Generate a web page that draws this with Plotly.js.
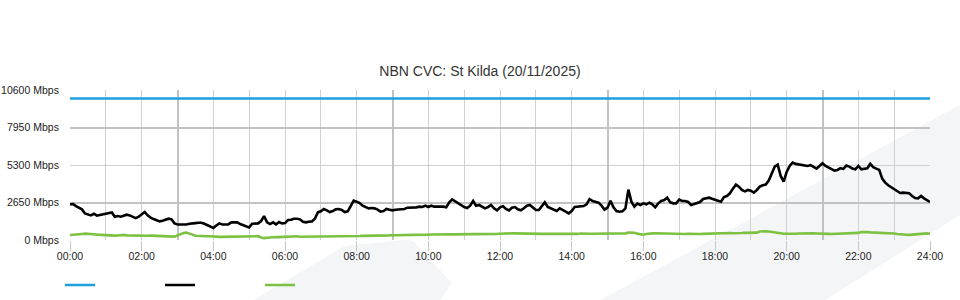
<!DOCTYPE html>
<html>
<head>
<meta charset="utf-8">
<script src="https://cdn.plot.ly/plotly-3.0.1.min.js"></script>
<style>html,body{margin:0;padding:0;background:#fff;}#chart{width:960px;height:300px;}</style>
</head>
<body>
<div id="chart"></div>
<script>
// ---- Data (Mbps, 5-minute samples from 00:00 to 24:00) ----
const chartTitle = "NBN CVC: St Kilda (20/11/2025)";
const xTickLabels = ["00:00","02:00","04:00","06:00","08:00","10:00","12:00","14:00","16:00","18:00","20:00","22:00","24:00"];
const yTickValues = [0, 2650, 5300, 7950, 10600];
const yTickLabels = ["0 Mbps","2650 Mbps","5300 Mbps","7950 Mbps","10600 Mbps"];
const capacityMbps = 10000;

const trafficMbps = [
  2520,2543,2400,2260,2165,1880,1790,1740,1860,1720,1765,1810,
  1905,1950,1950,1645,1690,1645,1740,1790,1740,1645,1550,1645,
  1810,1975,1740,1575,1480,1385,1315,1360,1435,1505,1460,1175,
  1100,1100,1080,1100,1150,1150,1195,1220,1220,1150,1055,935,
  845,1030,1175,1100,1100,1100,1245,1270,1245,1125,1055,985,
  890,1150,1175,1175,1340,1690,1245,1125,1245,1100,1270,1175,
  1195,1410,1435,1505,1505,1460,1290,1245,1290,1315,1505,1950,
  2025,2190,2095,1975,2045,2165,2190,2120,1975,2025,2400,2780,
  2710,2615,2426,2308,2237,2260,2237,2143,2000,2048,2190,2143,
  2095,2143,2143,2166,2190,2284,2284,2284,2308,2355,2330,2426,
  2330,2426,2355,2355,2380,2355,2308,2662,2875,2733,2591,2450,
  2330,2260,2426,2757,2426,2473,2380,2237,2330,2473,2237,2095,
  2308,2380,2190,2095,2284,2330,2166,2095,2237,2426,2473,2284,
  2119,2119,2380,2662,2330,2237,2166,2048,2237,2095,2000,1883,
  2048,2330,2355,2355,2402,2520,2898,2757,2710,2639,2426,2143,
  2284,2780,2308,2048,2000,2024,2237,3560,2710,2355,2568,2473,
  2591,2520,2638,2520,2307,2591,2756,2827,2992,2662,2591,2591,
  2851,2756,2756,2685,2473,2544,2614,2685,2898,2945,2992,2921,
  2874,2780,2709,3040,3110,3299,3630,3913,3772,3536,3441,3536,
  3488,3347,3536,3772,3866,3913,4197,4669,5189,5331,4528,4126,
  4811,5236,5472,5378,5331,5307,5260,5236,5283,5189,5047,5236,
  5425,5236,5142,5047,4906,4953,5071,5024,5260,5189,5047,5000,
  5236,5000,5024,5071,5378,5142,5047,4953,4339,4055,3866,3725,
  3583,3441,3323,3347,3323,3299,3110,2969,2945,3110,2945,2827,
  2685
];

const otherMbps = [
  350,380,420,440,430,450,450,440,410,380,360,340,
  330,350,330,310,320,350,360,330,320,340,350,330,
  310,300,300,310,300,290,280,250,220,210,220,240,
  330,420,500,520,470,380,300,280,280,280,270,260,
  230,220,220,220,220,220,230,230,220,220,230,240,
  250,250,260,270,180,130,160,190,200,210,200,210,
  240,260,270,270,260,230,230,250,260,260,230,240,
  250,270,270,280,270,250,260,270,270,280,280,270,
  270,280,290,290,300,280,300,310,310,320,320,330,
  340,340,330,330,340,350,350,350,360,360,350,360,
  380,390,400,400,400,410,410,410,400,400,400,390,
  380,390,400,400,410,410,410,410,420,420,420,430,
  440,460,470,470,470,470,460,460,450,440,430,420,
  420,430,430,440,430,420,420,420,420,430,440,430,
  420,420,430,460,470,460,440,440,440,440,440,440,
  440,440,440,440,450,460,470,520,540,510,450,400,
  370,420,460,470,480,470,490,480,460,450,440,430,
  410,400,420,430,440,430,410,420,430,440,440,440,
  430,440,450,460,470,490,480,470,480,490,500,500,
  490,500,520,600,630,620,600,580,560,530,480,440,
  430,440,430,440,460,470,470,460,460,470,460,440,
  440,450,430,420,430,440,420,410,420,430,460,470,
  500,560,580,560,540,530,520,520,510,520,510,500,
  460,420,390,370,370,360,380,400,410,420,450,470,
  440
];

// ---- Build axes/time positions ----
const stepHours = 5 / 60;
const hours = trafficMbps.map((_, i) => i * stepHours);
const xTickValues = xTickLabels.map(l => parseInt(l.slice(0, 2), 10));
const hourGrid = Array.from({length: 25}, (_, h) => h);
const heavyHourGrid = [3, 9, 15, 21];
const heavyYGrid = [0, 2650, 7950];
const capacityX = [0, 24];
const capacityY = capacityX.map(() => capacityMbps);

const FONT = "Liberation Sans, Arial, Helvetica, sans-serif";
const lightGrid = "#d0d0d0";
const heavyGrid = "#c2c2c2";

const traces = [
  {x: capacityX, y: capacityY, mode: "lines", name: "", line: {color: "#1d9fe0", width: 2.5}, hoverinfo: "skip"},
  {x: hours, y: trafficMbps, mode: "lines", name: "", line: {color: "#000000", width: 2.6}, hoverinfo: "skip"},
  {x: hours, y: otherMbps, mode: "lines", name: "", line: {color: "#7cc142", width: 2.6}, hoverinfo: "skip"},
  {x: [], y: [], xaxis: "x2", yaxis: "y2", showlegend: false, hoverinfo: "skip"},
  {x: [], y: [], xaxis: "x3", yaxis: "y", showlegend: false, hoverinfo: "skip"}
];

const watermark = "#f4f5f7";
const layout = {
  width: 960, height: 300,
  margin: {l: 70, r: 30, t: 90, b: 60, autoexpand: false},
  paper_bgcolor: "#ffffff",
  plot_bgcolor: "rgba(0,0,0,0)",
  font: {family: FONT, size: 10.5, color: "#222"},
  title: {text: chartTitle, font: {family: FONT, size: 14, color: "#333"}, x: 0.5, xref: "container", xanchor: "center", y: 1 - 71/300, yref: "container", yanchor: "middle"},
  showlegend: true,
  legend: {orientation: "h", x: -0.0116, xanchor: "left", y: -0.3, yanchor: "middle", entrywidth: 55, entrywidthmode: "pixels", font: {size: 10}, bgcolor: "rgba(0,0,0,0)"},
  xaxis: {
    range: [0, 24], tickmode: "array", tickvals: hourGrid, showticklabels: false,
    showgrid: true, gridcolor: lightGrid, gridwidth: 1, zeroline: false,
    ticks: "", showline: false, fixedrange: true
  },
  xaxis2: {
    overlaying: "x", range: [0, 24], matches: "x", tickmode: "array", tickvals: heavyHourGrid,
    showgrid: true, gridcolor: heavyGrid, gridwidth: 2, showticklabels: false, ticks: "", zeroline: false, showline: false
  },
  xaxis3: {
    overlaying: "x", range: [0, 24], matches: "x", tickmode: "array", tickvals: xTickValues, ticktext: xTickLabels,
    showgrid: false, zeroline: false, showline: false,
    ticks: "outside", ticklen: 10, tickcolor: "#c8c8c8", tickwidth: 1, ticklabelstandoff: -4,
    tickfont: {family: FONT, size: 10.5, color: "#222"}
  },
  yaxis: {
    range: [0, 10600], tickmode: "array", tickvals: yTickValues, ticktext: yTickLabels,
    showgrid: true, gridcolor: lightGrid, gridwidth: 1, zeroline: false,
    ticks: "outside", ticklen: 8, tickcolor: "rgba(0,0,0,0)", showline: false, fixedrange: true
  },
  yaxis2: {
    overlaying: "y", range: [0, 10600], matches: "y", tickmode: "array", tickvals: heavyYGrid,
    showgrid: true, gridcolor: heavyGrid, gridwidth: 2, showticklabels: false, ticks: "", zeroline: false, showline: false
  },
  shapes: [
    {type: "path", xref: "paper", yref: "paper", layer: "below", line: {width: 0}, fillcolor: watermark,
     path: "M0.2128,-0.4017 L0.3174,-0.0467 Q0.3290,-0.0300 0.3450,-0.0250 L0.3895,-0.0007 Q0.3990,0.0000 0.4030,-0.0300 L0.4442,-0.2881 L0.4302,-0.4017 Z"},
    {type: "path", xref: "paper", yref: "paper", layer: "below", line: {width: 0}, fillcolor: watermark,
     path: "M0.6163,-0.4017 L1.0349,0.9017 L1.0349,0.1671 L0.8779,-0.4017 Z"}
  ]
};

Plotly.newPlot("chart", traces, layout, {staticPlot: true, displayModeBar: false});
</script>
</body>
</html>
